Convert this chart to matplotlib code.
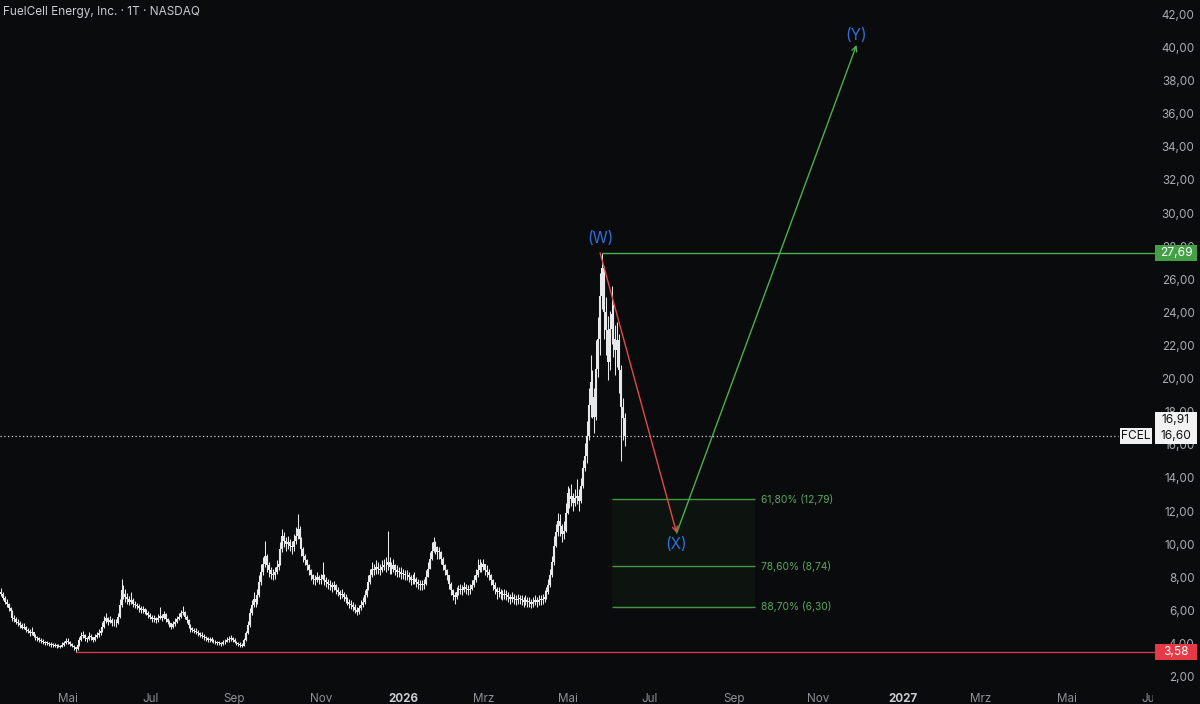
import numpy as np
import pandas as pd
import matplotlib
matplotlib.use("Agg")
import matplotlib.pyplot as plt
import matplotlib.transforms as mtransforms
from matplotlib.patches import Rectangle

plt.rcParams['font.family'] = ['Inter', 'DejaVu Sans']

# ---------------- data ----------------
title = "FuelCell Energy, Inc. · 1T · NASDAQ"
start_date = '2025-03-13'
first_open = 7.20

close = [
    7.10, 6.85, 6.60, 6.45, 6.20, 6.05, 5.60, 5.55, 5.40, 5.30,
    5.20, 5.05, 5.10, 4.90, 4.85, 4.70, 4.75, 4.55, 4.45, 4.40,
    4.30, 4.25, 4.15, 4.10, 4.12, 4.05, 4.00, 3.98, 3.95, 3.92,
    3.95, 3.90, 4.00, 4.10, 4.25, 4.20, 4.05, 3.95, 3.85, 3.75,
    4.00, 4.30, 4.55, 4.60, 4.40, 4.35, 4.55, 4.45, 4.30, 4.45,
    4.60, 4.70, 4.85, 5.10, 5.45, 5.60, 5.40, 5.50, 5.30, 5.35,
    5.30, 5.70, 6.40, 7.30, 7.10, 6.90, 6.80, 6.60, 6.70, 6.50,
    6.40, 6.35, 6.20, 6.10, 6.15, 6.00, 5.95, 5.80, 5.70, 5.55,
    5.60, 5.50, 5.65, 5.75, 5.60, 5.85, 5.55, 5.40, 5.30, 5.10,
    5.25, 5.40, 5.55, 5.70, 5.90, 6.00, 5.70, 5.50, 5.20, 5.00,
    4.90, 4.85, 4.80, 4.70, 4.60, 4.55, 4.45, 4.40, 4.30, 4.35,
    4.25, 4.20, 4.15, 4.10, 4.10, 4.05, 4.15, 4.20, 4.30, 4.35,
    4.40, 4.30, 4.20, 4.10, 4.05, 4.00, 3.95, 4.30, 4.70, 5.20,
    5.90, 6.40, 6.80, 6.60, 7.00, 7.80, 8.40, 8.90, 9.40, 8.80,
    8.50, 8.30, 8.20, 8.40, 8.70, 8.90, 9.80, 10.60, 10.30, 10.10,
    10.20, 10.00, 9.90, 10.30, 10.60, 11.00, 10.40, 9.80, 9.40, 9.10,
    8.80, 8.50, 8.20, 8.00, 7.90, 8.10, 7.95, 8.00, 8.20, 7.90,
    7.80, 7.70, 7.60, 7.50, 7.60, 7.30, 7.20, 7.00, 7.10, 6.90,
    6.80, 6.60, 6.50, 6.40, 6.30, 6.10, 6.00, 6.20, 6.40, 6.60,
    7.00, 7.40, 7.80, 8.20, 8.60, 8.50, 8.70, 8.60, 8.50, 8.70,
    8.80, 8.80, 9.00, 8.70, 8.60, 8.80, 8.50, 8.40, 8.40, 8.30,
    8.30, 8.20, 8.20, 8.10, 7.90, 8.00, 8.00, 7.80, 7.70, 7.60,
    7.60, 7.70, 8.10, 8.60, 9.20, 9.70, 10.20, 9.90, 9.60, 9.60,
    9.20, 8.80, 8.50, 8.20, 7.70, 7.30, 7.00, 6.90, 7.20, 7.30,
    7.40, 7.30, 7.50, 7.40, 7.30, 7.40, 7.60, 7.90, 8.20, 8.50,
    8.80, 8.70, 8.90, 8.50, 8.40, 8.20, 7.90, 7.60, 7.40, 7.20,
    7.20, 7.10, 7.00, 7.10, 7.00, 6.90, 6.80, 6.90, 6.80, 6.70,
    6.80, 6.80, 6.70, 6.60, 6.70, 6.60, 6.60, 6.50, 6.60, 6.70,
    6.60, 6.70, 6.70, 6.80, 6.90, 7.20, 7.60, 8.20, 9.00, 10.00,
    10.80, 11.50, 11.20, 10.70, 10.90, 12.00, 13.20, 12.80, 13.00, 12.60,
    12.90, 13.00, 12.70, 13.60, 14.70, 15.40, 16.60, 18.50, 19.90, 19.00,
    17.80, 20.70, 22.50, 25.10, 26.80, 24.10, 23.00, 21.10, 23.10, 24.00,
    22.50, 21.80, 22.40, 20.60, 18.40, 17.70, 16.60,
]

high = [
    7.45, 7.20, 6.95, 6.75, 6.55, 6.30, 6.10, 5.80, 5.70, 5.55,
    5.45, 5.30, 5.35, 5.15, 5.00, 4.95, 5.10, 4.80, 4.65, 4.55,
    4.50, 4.40, 4.35, 4.25, 4.25, 4.20, 4.15, 4.10, 4.10, 4.05,
    4.05, 4.00, 4.15, 4.25, 4.40, 4.40, 4.25, 4.10, 4.00, 3.90,
    4.10, 4.45, 4.80, 4.85, 4.65, 4.50, 4.75, 4.65, 4.50, 4.65,
    4.80, 4.95, 5.10, 5.40, 5.75, 5.90, 5.70, 5.75, 5.60, 5.55,
    5.55, 5.95, 6.80, 8.00, 7.60, 7.40, 7.15, 6.95, 7.20, 6.85,
    6.65, 6.55, 6.45, 6.35, 6.35, 6.25, 6.15, 6.05, 5.95, 5.80,
    5.80, 5.70, 5.85, 6.30, 5.85, 6.05, 5.90, 5.65, 5.50, 5.35,
    5.45, 5.60, 5.75, 5.95, 6.10, 6.35, 6.05, 5.80, 5.55, 5.25,
    5.10, 5.05, 5.00, 4.90, 4.80, 4.75, 4.65, 4.55, 4.50, 4.50,
    4.45, 4.35, 4.30, 4.25, 4.25, 4.20, 4.30, 4.35, 4.45, 4.55,
    4.60, 4.50, 4.40, 4.25, 4.20, 4.15, 4.10, 4.40, 4.85, 5.45,
    6.20, 6.70, 7.20, 7.00, 7.40, 8.20, 8.90, 9.30, 10.30, 9.50,
    9.00, 8.70, 8.60, 8.70, 9.10, 9.30, 10.20, 11.00, 10.80, 10.50,
    10.60, 10.40, 10.30, 10.70, 11.10, 11.90, 11.20, 10.50, 9.90, 9.50,
    9.20, 8.90, 8.60, 8.30, 8.20, 8.40, 8.20, 8.30, 9.00, 8.30,
    8.10, 8.00, 7.90, 7.80, 7.85, 7.70, 7.50, 7.30, 7.35, 7.20,
    7.10, 6.90, 6.80, 6.70, 6.60, 6.45, 6.30, 6.40, 6.70, 6.90,
    7.30, 7.70, 8.20, 8.60, 9.00, 8.90, 9.10, 9.00, 8.90, 9.10,
    9.20, 9.30, 10.90, 9.30, 9.00, 9.20, 8.90, 8.80, 8.70, 8.70,
    8.60, 8.50, 8.50, 8.40, 8.20, 8.30, 8.40, 8.10, 8.00, 7.90,
    7.90, 8.00, 8.50, 9.00, 9.60, 10.20, 10.50, 10.30, 10.00, 9.90,
    9.70, 9.30, 8.90, 8.60, 8.20, 7.80, 7.40, 7.20, 7.50, 7.60,
    7.70, 7.60, 7.80, 7.70, 7.60, 7.70, 7.90, 8.20, 8.60, 9.20,
    9.20, 9.00, 9.20, 8.90, 8.80, 8.60, 8.30, 8.00, 7.80, 7.50,
    7.50, 7.40, 7.30, 7.40, 7.30, 7.20, 7.10, 7.20, 7.10, 7.00,
    7.10, 7.00, 7.00, 6.90, 7.00, 6.90, 6.90, 6.80, 6.90, 7.00,
    6.90, 7.00, 7.00, 7.10, 7.30, 7.50, 8.00, 8.60, 9.40, 10.60,
    11.30, 12.00, 11.90, 11.30, 11.50, 12.60, 13.60, 13.50, 13.70, 13.20,
    13.40, 14.00, 13.40, 14.10, 15.20, 16.20, 17.50, 19.50, 21.50, 20.60,
    19.50, 22.40, 23.80, 26.50, 27.69, 26.90, 25.00, 23.90, 24.20, 25.70,
    24.60, 23.30, 23.50, 22.80, 20.90, 18.90, 18.00,
]

low = [
    6.95, 6.70, 6.45, 6.30, 6.05, 5.85, 5.45, 5.40, 5.25, 5.15,
    5.05, 4.95, 4.95, 4.80, 4.70, 4.55, 4.60, 4.45, 4.30, 4.25,
    4.20, 4.10, 4.05, 3.98, 4.00, 3.95, 3.90, 3.88, 3.85, 3.82,
    3.85, 3.82, 3.88, 3.95, 4.05, 4.05, 3.95, 3.85, 3.72, 3.58,
    3.70, 3.95, 4.25, 4.40, 4.25, 4.20, 4.30, 4.30, 4.15, 4.25,
    4.40, 4.50, 4.60, 4.80, 5.05, 5.35, 5.20, 5.30, 5.15, 5.15,
    5.10, 5.25, 5.65, 6.30, 6.80, 6.60, 6.50, 6.40, 6.45, 6.30,
    6.20, 6.15, 6.00, 5.95, 5.95, 5.85, 5.80, 5.65, 5.55, 5.40,
    5.40, 5.35, 5.40, 5.55, 5.45, 5.55, 5.40, 5.25, 5.10, 4.95,
    5.00, 5.15, 5.35, 5.50, 5.65, 5.80, 5.55, 5.30, 5.00, 4.80,
    4.75, 4.70, 4.65, 4.55, 4.45, 4.40, 4.30, 4.25, 4.20, 4.20,
    4.15, 4.10, 4.05, 4.00, 3.98, 3.95, 4.00, 4.05, 4.15, 4.20,
    4.25, 4.20, 4.10, 4.00, 3.95, 3.90, 3.85, 3.95, 4.25, 4.65,
    5.10, 5.80, 6.30, 6.30, 6.50, 6.90, 7.60, 8.20, 8.70, 8.40,
    8.10, 8.00, 7.90, 8.00, 8.30, 8.50, 8.80, 9.60, 9.90, 9.70,
    9.80, 9.70, 9.50, 9.70, 10.10, 10.40, 10.00, 9.40, 9.00, 8.80,
    8.50, 8.20, 7.90, 7.70, 7.60, 7.80, 7.70, 7.70, 7.90, 7.60,
    7.50, 7.40, 7.30, 7.20, 7.30, 7.10, 6.95, 6.80, 6.85, 6.65,
    6.55, 6.40, 6.25, 6.15, 6.05, 5.90, 5.80, 5.85, 6.10, 6.30,
    6.50, 6.90, 7.30, 7.70, 8.10, 8.20, 8.30, 8.30, 8.20, 8.40,
    8.50, 8.40, 8.50, 8.30, 8.30, 8.40, 8.20, 8.10, 8.10, 8.00,
    8.00, 7.90, 7.90, 7.80, 7.60, 7.70, 7.70, 7.50, 7.40, 7.30,
    7.30, 7.40, 7.60, 8.10, 8.60, 9.10, 9.60, 9.50, 9.20, 9.20,
    8.90, 8.50, 8.20, 7.90, 7.40, 7.00, 6.70, 6.50, 6.80, 7.00,
    7.10, 7.00, 7.20, 7.10, 7.00, 7.10, 7.30, 7.50, 7.80, 8.10,
    8.40, 8.40, 8.50, 8.20, 8.10, 7.90, 7.60, 7.30, 7.10, 6.80,
    6.90, 6.80, 6.70, 6.80, 6.70, 6.60, 6.50, 6.60, 6.50, 6.40,
    6.50, 6.50, 6.40, 6.30, 6.40, 6.30, 6.30, 6.20, 6.30, 6.40,
    6.30, 6.40, 6.40, 6.50, 6.60, 6.80, 7.10, 7.50, 8.10, 8.80,
    9.90, 10.60, 10.60, 10.20, 10.40, 10.80, 11.90, 12.30, 12.40, 12.10,
    12.40, 12.50, 12.10, 12.60, 13.50, 14.50, 15.00, 16.40, 17.80, 17.70,
    16.80, 17.60, 20.20, 21.50, 24.30, 22.50, 21.50, 20.00, 20.60, 22.20,
    21.40, 20.30, 20.80, 19.20, 15.10, 16.40, 16.00,
]

ticker = 'FCEL'
last_price = 16.60
prev_price_label = '16,91'
peak_price = 27.69
support_price = 3.58

wave_labels = ['(W)', '(X)', '(Y)']
wave_dates = ['2026-05-26', '2026-07-21', '2026-11-30']
wave_prices = [27.69, 10.76, 40.25]

fib_labels = ['61,80% (12,79)', '78,60% (8,74)', '88,70% (6,30)']
fib_prices = [12.79, 8.74, 6.30]
fib_dates = ['2026-06-03', '2026-09-16']

y_ticks = list(range(2, 43, 2))
month_abbr = {1: 'Jan', 3: 'Mrz', 5: 'Mai', 7: 'Jul', 9: 'Sep', 11: 'Nov'}

# ---------------- styling ----------------
BG = '#0a0b0c'
CANDLE = '#e8e8e8'
GREEN = '#4caf50'
RED_ARROW = '#e5484d'
RED_LINE = '#d63a4a'
BLUE = '#2f6fe0'
AXIS_TXT = '#a9acb3'

W_PX, H_PX = 1200, 704
PX_PER_BAR = 1.914
PLOT_BOTTOM_PX = 685

fig = plt.figure(figsize=(W_PX / 100, H_PX / 100), dpi=100, facecolor=BG)
ax = fig.add_axes([0, (H_PX - PLOT_BOTTOM_PX) / H_PX, 1, PLOT_BOTTOM_PX / H_PX])
ax.set_facecolor(BG)
for s in ax.spines.values():
    s.set_visible(False)

n = len(close)
dates_all = pd.bdate_range(start_date, periods=700)
idx = np.arange(n)
c = np.array(close)
o = np.concatenate([[first_open], c[:-1]])
h = np.maximum(np.array(high), np.maximum(o, c))
l = np.minimum(np.array(low), np.minimum(o, c))

x0 = -1 / PX_PER_BAR
x1 = x0 + W_PX / PX_PER_BAR
ax.set_xlim(x0, x1)
y_top = 42 + 16 / 16.55
y_bot = 42 - (PLOT_BOTTOM_PX - 16) / 16.55
ax.set_ylim(y_bot, y_top)

def xpos(d):
    return int(dates_all.get_indexer([pd.Timestamp(d)])[0])

def frac_to_x(f):
    return x0 + f * (x1 - x0)

# candles
ax.vlines(idx, l, h, color=CANDLE, lw=0.75, zorder=3)
body_lo = np.minimum(o, c)
body_hi = np.maximum(o, c)
body_hi = np.where(body_hi - body_lo < 0.05, body_lo + 0.05, body_hi)
ax.vlines(idx, body_lo, body_hi, color=CANDLE, lw=1.5, zorder=3)

# last price dotted line
ax.axhline(last_price, xmin=0, xmax=0.932, color='#cfcfcf', lw=0.9,
           linestyle=(0, (1, 2)), zorder=2)

# peak horizontal (green) and support (red)
i_peak = int(np.argmax(h))
i_low = int(np.argmin(l))
ax.hlines(peak_price, i_peak, frac_to_x(0.9625), color=GREEN, lw=1.0, zorder=4)
ax.hlines(support_price, i_low, frac_to_x(0.9625), color=RED_LINE, lw=1.0, zorder=4)

# fib box
fx0, fx1 = xpos(fib_dates[0]), xpos(fib_dates[1])
ax.add_patch(Rectangle((fx0, min(fib_prices)), fx1 - fx0,
                       max(fib_prices) - min(fib_prices),
                       facecolor=GREEN, alpha=0.06, edgecolor='none', zorder=1))
ax.hlines(fib_prices, fx0, fx1, color=GREEN, lw=1.0, alpha=0.85, zorder=2)
for lab, p in zip(fib_labels, fib_prices):
    ax.text(fx1 + 3, p, lab, color='#5ba85e', fontsize=7.4, ha='left', va='center')

# wave arrows and labels
wx = [xpos(d) for d in wave_dates]
arrow_colors = [RED_ARROW, GREEN]
for k in range(2):
    ax.annotate('', xy=(wx[k + 1], wave_prices[k + 1]), xytext=(wx[k], wave_prices[k]),
                arrowprops=dict(arrowstyle='->', color=arrow_colors[k], lw=1.0,
                                shrinkA=0, shrinkB=0, mutation_scale=9), zorder=5)
offsets = [10, -8, 7]
for lab, xx, p, off in zip(wave_labels, wx, wave_prices, offsets):
    ax.annotate(lab, (xx, p), xytext=(0, off), textcoords='offset points',
                ha='center', va='center', color=BLUE, fontsize=11, zorder=6)

# y tick labels (inside, right side)
blend = mtransforms.blended_transform_factory(ax.transAxes, ax.transData)
for v in y_ticks:
    ax.text(0.9955, v, f"{v:.2f}".replace('.', ','), transform=blend, ha='right',
            va='center', color=AXIS_TXT, fontsize=8.4, zorder=2)

# price boxes
px_h = 16 / 16.55  # 16 px in data units

def price_box(xl_px, xr_px, yc, text, fc, tc):
    ax.add_patch(Rectangle((xl_px / W_PX, yc - px_h / 2), (xr_px - xl_px) / W_PX, px_h,
                           transform=blend, facecolor=fc, edgecolor='none', zorder=7,
                           clip_on=False))
    ax.text((xl_px + xr_px) / 2 / W_PX, yc, text, transform=blend, ha='center',
            va='center', color=tc, fontsize=8.6, zorder=8)

price_box(1155, 1197, peak_price, f"{peak_price:.2f}".replace('.', ','), '#43a047', 'white')
price_box(1155, 1197, last_price, f"{last_price:.2f}".replace('.', ','), '#f2f2f2', '#111111')
price_box(1155, 1197, last_price + px_h, prev_price_label, '#f2f2f2', '#111111')
price_box(1120, 1152, last_price, ticker, '#f2f2f2', '#111111')
price_box(1155, 1197, support_price, f"{support_price:.2f}".replace('.', ','), '#e53945', 'white')

# x ticks at month starts
months = pd.date_range(dates_all[0], dates_all[-1], freq='MS')
tick_pos, tick_lab, tick_year = [], [], []
for m in months:
    if m.month in month_abbr:
        p = int(np.searchsorted(dates_all, m))
        if x0 <= p <= x1:
            tick_pos.append(p)
            tick_lab.append(str(m.year) if m.month == 1 else month_abbr[m.month])
            tick_year.append(m.month == 1)
ax.set_xticks(tick_pos)
ax.set_xticklabels(tick_lab)
ax.tick_params(axis='x', length=0, pad=6, labelsize=8.4, colors='#8d9096')
for t, isy in zip(ax.get_xticklabels(), tick_year):
    if isy:
        t.set_fontweight('bold')
        t.set_color('#c9ccd2')
ax.set_yticks([])

# cover strip under the price scale
fig.patches.append(Rectangle((1153 / W_PX, 0), 47 / W_PX, (H_PX - PLOT_BOTTOM_PX) / H_PX,
                             transform=fig.transFigure, facecolor=BG, edgecolor='none',
                             zorder=10))

# title
fig.text(3 / W_PX, 1 - 12 / H_PX, title, color='#c9ccd2', fontsize=8.5,
         ha='left', va='center')

fig.savefig('out.png', dpi=100, facecolor=BG)
